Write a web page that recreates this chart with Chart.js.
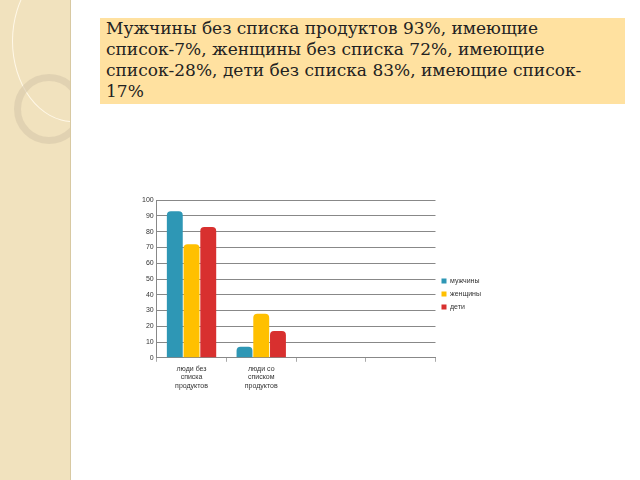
<!DOCTYPE html>
<html><head><meta charset="utf-8">
<script src="https://cdn.jsdelivr.net/npm/chart.js@4"></script>
<style>
body{margin:0;width:640px;height:480px;background:#fff;position:relative;overflow:hidden;font-family:"DejaVu Serif",serif}
#side{position:absolute;left:0;top:0;width:70px;height:480px;background:#F1E2BE;border-right:1px solid #d8c9a2;overflow:hidden}
#c1{position:absolute;left:12px;top:-40px;width:120px;height:160px;border-radius:50%;border:1px solid #fff8e8}
#c2{position:absolute;left:14px;top:74px;width:56px;height:56px;border-radius:50%;border:7px solid rgba(215,200,170,0.6)}
#title{position:absolute;left:100px;top:18px;width:517px;padding:0 2px 2px 6px;background:#FFE1A0;font-size:17px;line-height:21px;color:#222;white-space:nowrap}
#wrap{position:absolute;left:139px;top:193px;width:352px;height:200px}
</style></head><body>
<div id="side"><div id="c1"></div><div id="c2"></div></div>
<div id="title">Мужчины без списка продуктов 93%, имеющие<br>список-7%, женщины без списка 72%, имеющие<br>список-28%, дети без списка 83%, имеющие список-<br>17%</div>
<div id="wrap"><canvas id="ch"></canvas></div>
<script>
const categories=[["люди без","списка","продуктов"],["люди со","списком","продуктов"],"",""];
const seriesNames=["мужчины","женщины","дети"];
const men=[93,7,null,null];
const women=[72,28,null,null];
const kids=[83,17,null,null];
const colors=["#2E97B5","#FFC000","#D8302F"];
new Chart(document.getElementById('ch'),{type:'bar',
data:{labels:categories,datasets:[men,women,kids].map((d,i)=>({label:seriesNames[i],data:d,backgroundColor:colors[i],borderColor:colors[i],borderWidth:0,borderRadius:4,borderSkipped:'bottom',categoryPercentage:0.72,barPercentage:0.95}))},
options:{responsive:true,maintainAspectRatio:false,animation:false,
layout:{padding:{top:2,right:0}},
plugins:{legend:{position:'right',labels:{boxWidth:5,boxHeight:5,font:{size:7,family:'Liberation Sans'},color:'#333',padding:6}},tooltip:{enabled:false}},
scales:{y:{min:0,max:100,ticks:{stepSize:10,font:{size:7,family:'Liberation Sans'},color:'#333'},grid:{color:'#888',drawTicks:false},border:{color:'#888'}},
x:{ticks:{font:{size:7,family:'Liberation Sans'},color:'#333',maxRotation:0},grid:{color:'#aaa',offset:true,drawOnChartArea:false,tickLength:4},border:{color:'#888'}}}}});
</script></body></html>
